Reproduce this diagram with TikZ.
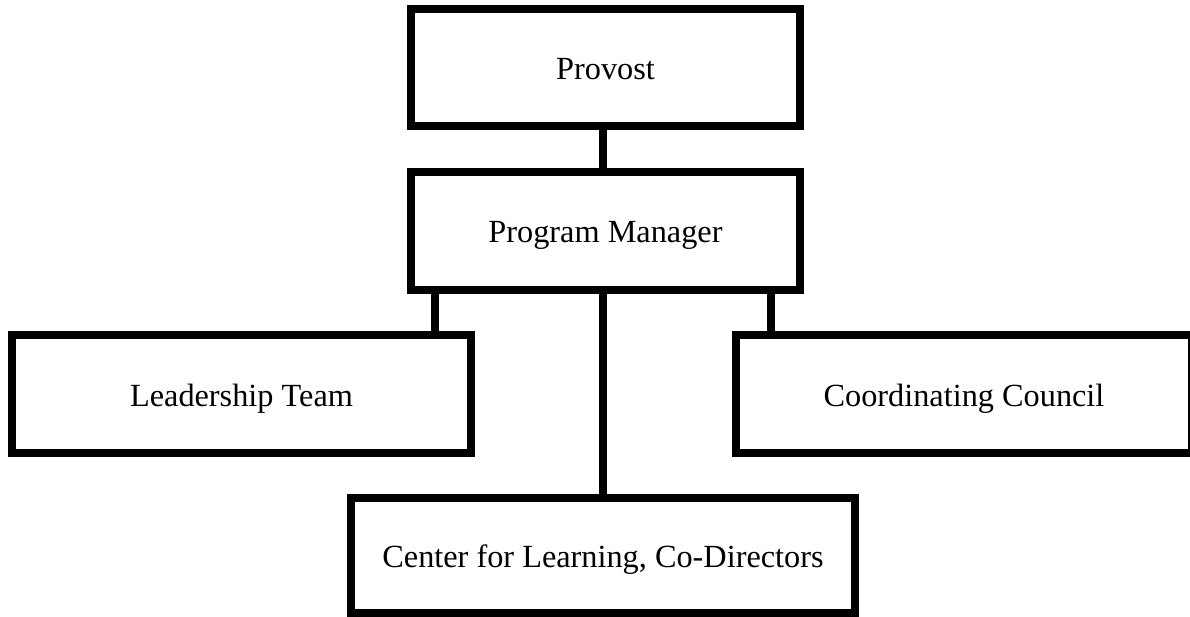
\documentclass[tikz,border=0pt]{standalone}
\usepackage{fontspec}
\setmainfont{Liberation Serif}
\begin{document}
\begin{tikzpicture}[x=1pt,y=-1pt,
  orgbox/.style={draw=black,line width=8pt,inner sep=0pt,anchor=center,
    text height=30pt,text depth=6pt,
    font=\fontsize{32.3}{38}\selectfont},
  link/.style={draw=black,line width=8pt}]
\useasboundingbox (0,0) rectangle (1190,617);
\node[orgbox,minimum width=389pt,minimum height=117pt] (prov) at (605.5,67.5) {Provost};
\node[orgbox,minimum width=389pt,minimum height=117.5pt] (pm) at (605.5,231) {Program Manager};
\node[orgbox,minimum width=459pt,minimum height=118pt] (lt) at (241.5,394) {Leadership Team};
\node[orgbox,minimum width=456pt,minimum height=118pt] (cc) at (964,394) {Coordinating Council};
\node[orgbox,minimum width=504pt,minimum height=115pt] (cl) at (603,555.5) {Center for Learning, Co-Directors};
\coordinate (xl) at (435,0);
\coordinate (xm) at (603,0);
\coordinate (xr) at (771,0);
\draw[link] (prov.south -| xm) -- (pm.north -| xm);
\draw[link] (pm.south -| xl) -- (lt.north -| xl);
\draw[link] (pm.south -| xm) -- (cl.north -| xm);
\draw[link] (pm.south -| xr) -- (cc.north -| xr);
\end{tikzpicture}
\end{document}
